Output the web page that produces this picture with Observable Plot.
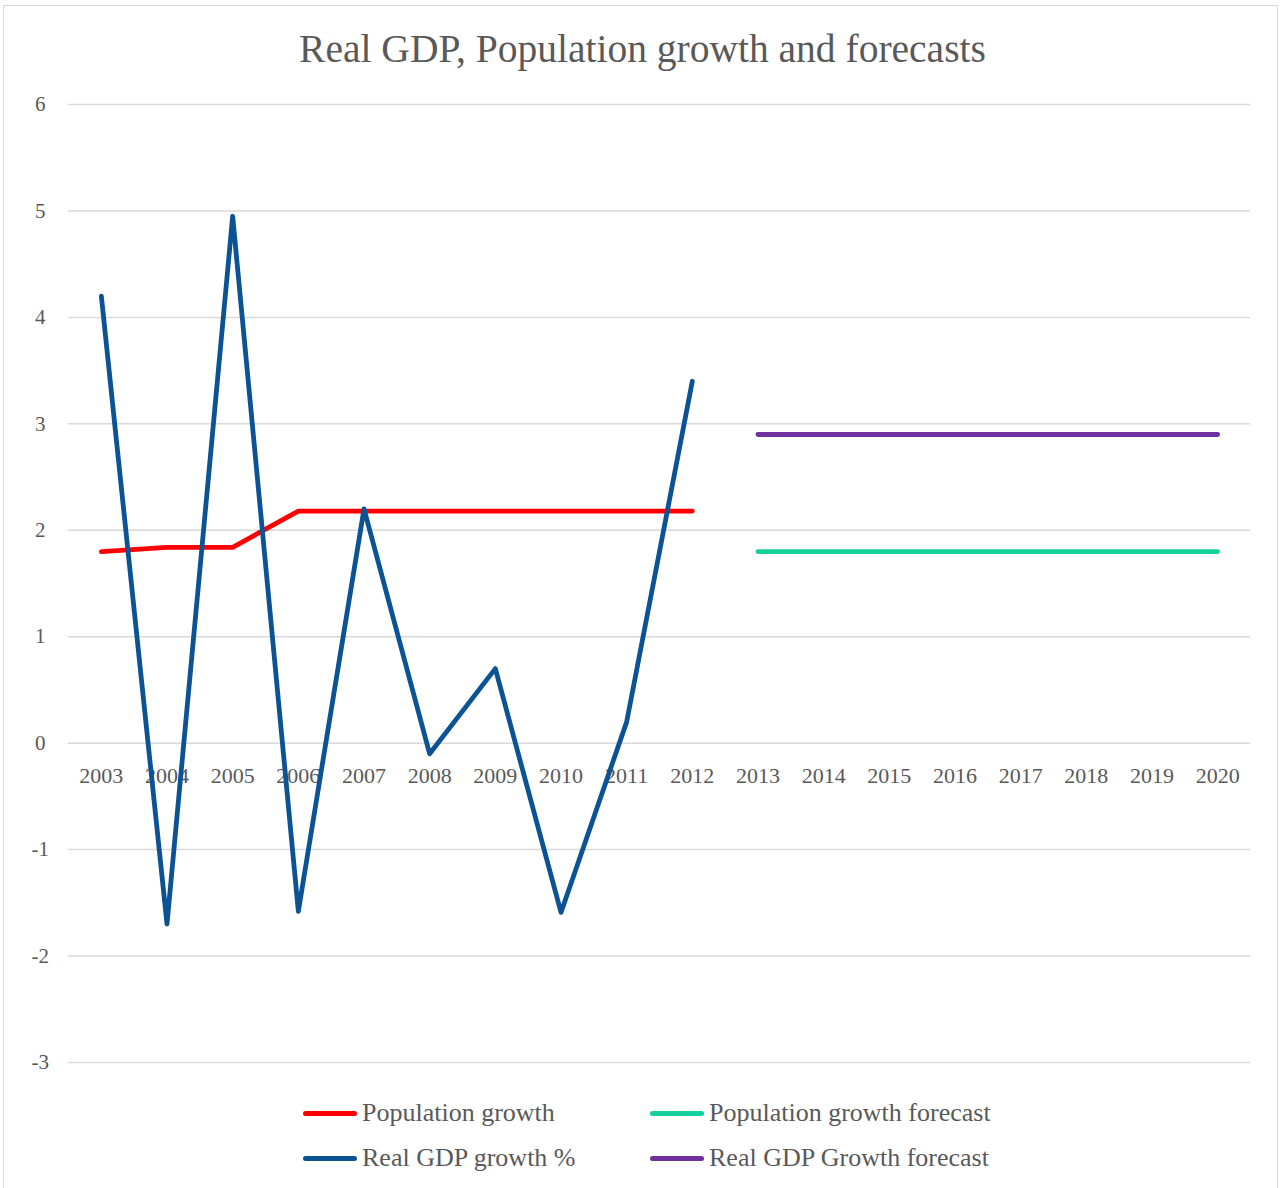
<!DOCTYPE html>
<html>
<head>
<meta charset="utf-8">
<script src="https://cdn.jsdelivr.net/npm/d3@7"></script>
<script src="https://cdn.jsdelivr.net/npm/@observablehq/plot@0.6"></script>
<style>
  html, body { margin: 0; padding: 0; background: #fff; }
  body { width: 1285px; height: 1188px; overflow: hidden; font-family: "Liberation Serif", "DejaVu Serif", serif; }
  #frame { position: absolute; left: 3px; top: 5px; width: 1275px; height: 1200px; border: 1px solid #d9d9d9; box-sizing: border-box; z-index: 2; pointer-events: none; }
  #wrap { position: absolute; left: 0; top: 0; width: 1285px; z-index: 1; }
  #title { height: 80px; line-height: 98px; text-align: center; font-size: 39.5px; color: #595959; }
  #legend { position: relative; height: 108px; color: #595959; font-size: 26px; }
  .item { position: absolute; display: flex; align-items: center; white-space: nowrap; }
  .sw { width: 54px; height: 5px; border-radius: 3px; margin-right: 5px; }
</style>
</head>
<body>
<div id="wrap">
  <div id="title">Real GDP, Population growth and forecasts</div>
  <div id="chart"></div>
  <div id="legend"></div>
</div>
<div id="frame"></div>
<script>
const years = ["2003","2004","2005","2006","2007","2008","2009","2010","2011","2012","2013","2014","2015","2016","2017","2018","2019","2020"];
const histYears = ["2003","2004","2005","2006","2007","2008","2009","2010","2011","2012"];
const forecastYears = ["2013","2014","2015","2016","2017","2018","2019","2020"];
const populationGrowth = [1.8, 1.84, 1.84, 2.18, 2.18, 2.18, 2.18, 2.18, 2.18, 2.18];
const realGdpGrowth = [4.2, -1.7, 4.95, -1.58, 2.2, -0.1, 0.7, -1.59, 0.2, 3.4];
const populationForecast = [1.8, 1.8, 1.8, 1.8, 1.8, 1.8, 1.8, 1.8];
const gdpForecast = [2.9, 2.9, 2.9, 2.9, 2.9, 2.9, 2.9, 2.9];
const yTicks = [-3, -2, -1, 0, 1, 2, 3, 4, 5, 6];

const seriesNames = ["Population growth", "Population growth forecast", "Real GDP growth %", "Real GDP Growth forecast"];
const seriesColors = ["#ff0000", "#14d09c", "#0c5395", "#7030a0"];

const pop = histYears.map((y, i) => ({year: y, value: populationGrowth[i]}));
const gdp = histYears.map((y, i) => ({year: y, value: realGdpGrowth[i]}));
const popF = forecastYears.map((y, i) => ({year: y, value: populationForecast[i]}));
const gdpF = forecastYears.map((y, i) => ({year: y, value: gdpForecast[i]}));

const lineOpts = {x: "year", y: "value", strokeWidth: 4.8, strokeLinecap: "round", strokeLinejoin: "round"};

const chart = Plot.plot({
  width: 1285,
  height: 1000,
  marginTop: 24,
  marginBottom: 18,
  marginLeft: 68,
  marginRight: 35,
  style: {fontFamily: "'Liberation Serif', 'DejaVu Serif', serif", color: "#595959", background: "transparent"},
  x: {type: "point", domain: years, padding: 0.5, round: false, axis: null},
  y: {domain: [-3, 6], axis: null},
  marks: [
    Plot.ruleY(yTicks, {stroke: "#d9d9d9", strokeWidth: 1.5}),
    Plot.text(yTicks, {x: () => years[0], y: d => d, text: d => String(d), dx: -61, textAnchor: "middle", fontSize: 21, fill: "#595959"}),
    Plot.text(years, {x: d => d, y: () => 0, text: d => d, dy: 33, fontSize: 22, fill: "#595959"}),
    Plot.line(pop, {...lineOpts, stroke: seriesColors[0]}),
    Plot.line(popF, {...lineOpts, stroke: seriesColors[1]}),
    Plot.line(gdp, {...lineOpts, stroke: seriesColors[2]}),
    Plot.line(gdpF, {...lineOpts, stroke: seriesColors[3]})
  ]
});
document.getElementById("chart").appendChild(chart);

const legend = document.getElementById("legend");
const pos = [[303, 33], [650, 33], [303, 78], [650, 78]];
seriesNames.forEach((name, i) => {
  const it = document.createElement("div");
  it.className = "item";
  it.style.left = pos[i][0] + "px";
  it.style.top = (pos[i][1] - 15) + "px";
  it.style.height = "30px";
  const sw = document.createElement("span");
  sw.className = "sw";
  sw.style.background = seriesColors[i];
  const tx = document.createElement("span");
  tx.textContent = name;
  it.appendChild(sw);
  it.appendChild(tx);
  legend.appendChild(it);
});
</script>
</body>
</html>
